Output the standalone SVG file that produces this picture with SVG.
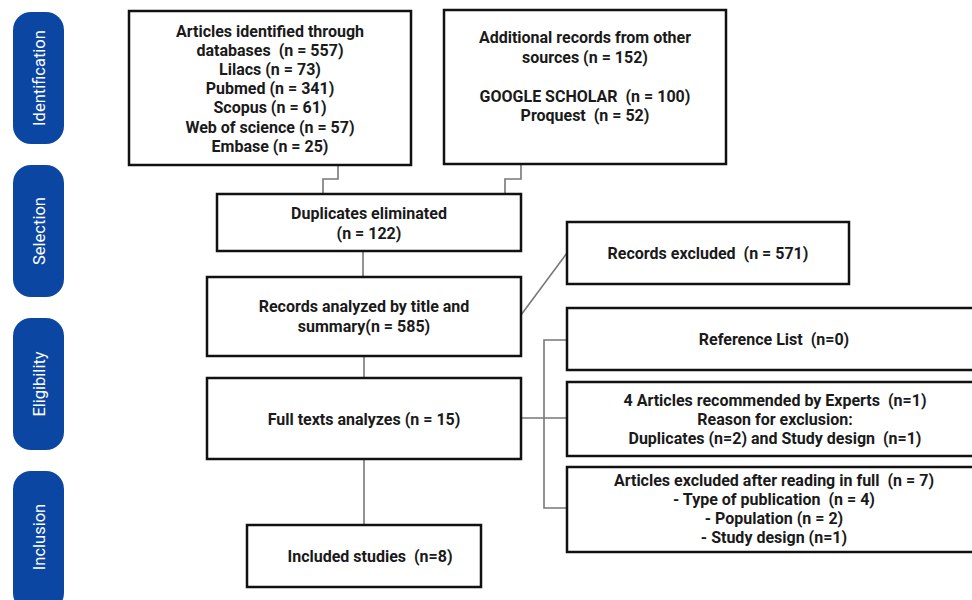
<svg xmlns="http://www.w3.org/2000/svg" width="972" height="600" viewBox="0 0 972 600">
<style>
.box{fill:#fff;stroke:#111;stroke-width:2.5}
.pill{fill:#0c46a3}
.pt{fill:#fff;font-family:Roboto,"Liberation Sans",sans-serif;font-size:16.5px;text-anchor:middle}
.t{fill:#1a1a1a;font-family:Roboto,"Liberation Sans",sans-serif;font-size:16px;font-weight:bold;text-anchor:middle;white-space:pre}
.c{fill:none;stroke:#777;stroke-width:1.6}
</style>
<rect width="972" height="600" fill="#fff"/>
<g id="stage-identification"><rect class="pill" x="13" y="12" width="51" height="132" rx="18"/><text class="pt" transform="translate(45,78) rotate(-90)">Identification</text></g>
<g id="stage-selection"><rect class="pill" x="13" y="165" width="51" height="132" rx="18"/><text class="pt" transform="translate(45,231) rotate(-90)">Selection</text></g>
<g id="stage-eligibility"><rect class="pill" x="13" y="318" width="51" height="132" rx="18"/><text class="pt" transform="translate(45,384) rotate(-90)">Eligibility</text></g>
<g id="stage-inclusion"><rect class="pill" x="13" y="471" width="51" height="140" rx="18"/><text class="pt" transform="translate(45,537) rotate(-90)">Inclusion</text></g>
<g id="connectors">
<polyline class="c" points="338,165 338,179 323,179 323,194"/>
<polyline class="c" points="521,164 521,179 505,179 505,194"/>
<line class="c" x1="363" y1="251" x2="363" y2="277"/>
<line class="c" x1="364" y1="356" x2="364" y2="378"/>
<line class="c" x1="364" y1="459" x2="364" y2="525"/>
<line class="c" x1="521" y1="315" x2="567" y2="253"/>
<line class="c" x1="521" y1="418" x2="567" y2="418"/>
<polyline class="c" points="567,340 544,340 544,508 567,508"/>
</g>
<g id="n-databases"><rect class="box" x="129" y="11" width="282" height="154"/>
<text class="t" x="270" y="37">Articles identified through</text>
<text class="t" x="270" y="56">databases  (n = 557)</text>
<text class="t" x="270" y="75">Lilacs (n = 73)</text>
<text class="t" x="270" y="94">Pubmed (n = 341)</text>
<text class="t" x="270" y="113">Scopus (n = 61)</text>
<text class="t" x="270" y="133">Web of science (n = 57)</text>
<text class="t" x="270" y="152">Embase (n = 25)</text></g>
<g id="n-other"><rect class="box" x="444" y="10" width="282" height="154"/>
<text class="t" x="585" y="43">Additional records from other</text>
<text class="t" x="585" y="63">sources (n = 152)</text>
<text class="t" x="585" y="102">GOOGLE SCHOLAR  (n = 100)</text>
<text class="t" x="585" y="121">Proquest  (n = 52)</text></g>
<g id="n-duplicates"><rect class="box" x="217" y="194" width="304" height="57"/>
<text class="t" x="369" y="219">Duplicates eliminated</text>
<text class="t" x="369" y="239">(n = 122)</text></g>
<g id="n-records"><rect class="box" x="207" y="277" width="314" height="79"/>
<text class="t" x="364" y="312">Records analyzed by title and</text>
<text class="t" x="364" y="332">summary(n = 585)</text></g>
<g id="n-fulltext"><rect class="box" x="207" y="378" width="314" height="81"/>
<text class="t" x="364" y="425">Full texts analyzes (n = 15)</text></g>
<g id="n-included"><rect class="box" x="247" y="525" width="234" height="62"/>
<text class="t" x="370" y="562">Included studies  (n=8)</text></g>
<g id="n-excluded"><rect class="box" x="567" y="222" width="282" height="62"/>
<text class="t" x="708" y="259">Records excluded  (n = 571)</text></g>
<g id="n-reflist"><rect class="box" x="567" y="308" width="415" height="62"/>
<text class="t" x="774" y="345">Reference List  (n=0)</text></g>
<g id="n-experts"><rect class="box" x="567" y="382" width="415" height="74"/>
<text class="t" x="775" y="406">4 Articles recommended by Experts  (n=1)</text>
<text class="t" x="775" y="425">Reason for exclusion:</text>
<text class="t" x="775" y="444">Duplicates (n=2) and Study design  (n=1)</text></g>
<g id="n-fullexcluded"><rect class="box" x="567" y="467" width="415" height="85"/>
<text class="t" x="774" y="486">Articles excluded after reading in full  (n = 7)</text>
<text class="t" x="774" y="505">- Type of publication  (n = 4)</text>
<text class="t" x="774" y="524">- Population (n = 2)</text>
<text class="t" x="774" y="543">- Study design (n=1)</text></g>
</svg>
